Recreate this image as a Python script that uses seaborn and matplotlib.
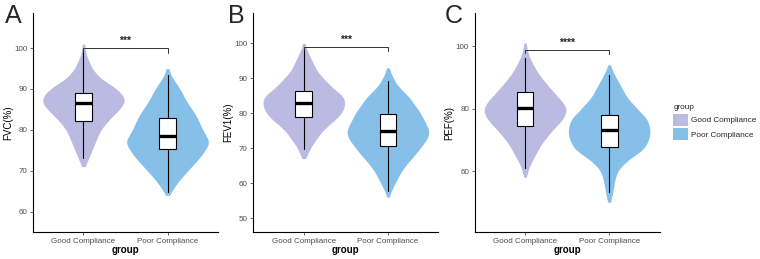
import numpy as np
import pandas as pd
import seaborn as sns
import matplotlib.pyplot as plt
from matplotlib.patches import Patch

groups = ['Good Compliance', 'Poor Compliance']
colors = ['#BBBBE2', '#86C0E9']

# estimated distributions: counts per 1-unit bin, starting at *_start
fvc_good_start = 71
fvc_good_counts = [1, 2, 3, 4, 5, 6, 7, 8, 9, 10, 12, 14, 16, 19, 21, 23, 25, 24, 22, 20,
                   16, 12, 9, 7, 5, 4, 3, 2, 1, 1, 1]
fvc_poor_start = 64
fvc_poor_counts = [1, 2, 4, 5, 7, 9, 11, 13, 15, 17, 19, 20, 22, 23, 22, 20, 19, 18, 17, 16,
                   15, 13, 12, 10, 9, 8, 7, 5, 4, 2, 1, 1]
fev_good_start = 67
fev_good_counts = [1, 2, 3, 4, 5, 7, 8, 10, 11, 14, 16, 19, 21, 23, 24, 25, 25, 25, 24, 21,
                   18, 16, 14, 12, 10, 8, 7, 6, 5, 4, 3, 2, 1, 1]
fev_poor_start = 56
fev_poor_counts = [1, 1, 2, 3, 4, 5, 6, 7, 8, 10, 11, 13, 15, 16, 18, 19, 21, 22, 23, 23,
                   22, 21, 20, 19, 18, 17, 15, 14, 13, 11, 9, 7, 5, 4, 3, 2, 1, 1]
pef_good_start = 58
pef_good_counts = [1, 1, 2, 2, 3, 4, 5, 6, 7, 8, 9, 10, 12, 13, 15, 16, 18, 20, 22, 23,
                   24, 25, 25, 24, 23, 21, 19, 18, 16, 14, 13, 11, 10, 8, 7, 6, 5, 4, 3, 2,
                   2, 1, 1, 1]
pef_poor_start = 50
pef_poor_counts = [1, 1, 2, 2, 2, 3, 3, 3, 4, 4, 5, 6, 8, 10, 12, 15, 18, 20, 22, 22,
                   23, 24, 24, 24, 24, 23, 23, 22, 20, 18, 16, 15, 13, 11, 10, 9, 8, 7, 6, 5,
                   4, 3, 2, 1, 1]

# box stats: whislo, q1, median, q3, whishi
fvc_box = [[73.0, 82.1, 86.5, 89.0, 99.6], [64.9, 75.3, 78.5, 83.0, 93.5]]
fev_box = [[69.8, 78.9, 82.9, 86.5, 98.8], [57.6, 70.7, 74.9, 79.7, 89.2]]
pef_box = [[60.9, 74.4, 80.3, 85.2, 96.1], [53.4, 67.8, 73.0, 77.8, 90.9]]

panels = [
    dict(letter='A', ylabel='FVC(%)', good=(fvc_good_start, fvc_good_counts),
         poor=(fvc_poor_start, fvc_poor_counts), box=fvc_box, ylim=(55.0, 108.6),
         yticks=[60, 70, 80, 90, 100], bracket=100.0, sig='***'),
    dict(letter='B', ylabel='FEV1(%)', good=(fev_good_start, fev_good_counts),
         poor=(fev_poor_start, fev_poor_counts), box=fev_box, ylim=(46.0, 108.7),
         yticks=[50, 60, 70, 80, 90, 100], bracket=99.0, sig='***'),
    dict(letter='C', ylabel='PEF(%)', good=(pef_good_start, pef_good_counts),
         poor=(pef_poor_start, pef_poor_counts), box=pef_box, ylim=(40.5, 110.6),
         yticks=[60, 80, 100], bracket=98.7, sig='****'),
]

sns.set_style('white')
plt.rcParams['font.family'] = ['Liberation Sans', 'DejaVu Sans']

fig = plt.figure(figsize=(7.6, 2.59), dpi=100)
lefts = [33 / 760, 253.4 / 760, 474.6 / 760]
letter_x = [5 / 760, 228 / 760, 445 / 760]

for p, left, lx in zip(panels, lefts, letter_x):
    ax = fig.add_axes([left, 27 / 259, 185 / 760, 219 / 259])
    rows = []
    for g, (start, counts) in zip(groups, [p['good'], p['poor']]):
        vals = np.repeat(np.arange(start, start + len(counts)), counts)
        rows.append(pd.DataFrame({'group': g, 'value': vals}))
    df = pd.concat(rows, ignore_index=True)
    sns.violinplot(data=df, x='group', y='value', hue='group', palette=colors,
                   inner=None, cut=0, linewidth=0, density_norm='width', width=0.97,
                   bw_adjust=0.55, saturation=1, legend=False, ax=ax)
    stats = [dict(whislo=b[0], q1=b[1], med=b[2], q3=b[3], whishi=b[4]) for b in p['box']]
    ax.bxp(stats, positions=[0, 1], widths=0.2, patch_artist=True, showfliers=False,
           showcaps=False, manage_ticks=False,
           boxprops=dict(facecolor='white', edgecolor='black', linewidth=0.8),
           medianprops=dict(color='black', linewidth=2.4),
           whiskerprops=dict(color='black', linewidth=0.8))
    yb = p['bracket']
    ax.plot([0, 0, 1, 1], [yb - 1.0, yb, yb, yb - 1.2], color='#333333', lw=0.7)
    ax.text(0.5, yb + 0.6, p['sig'], ha='center', va='bottom', fontsize=7.5,
            fontweight='bold', color='#222222')

    ax.set_xlim(-0.6, 1.6)
    ax.set_ylim(*p['ylim'])
    ax.set_yticks(p['yticks'])
    ax.set_xlabel('group', fontsize=7, color='black', labelpad=0, fontweight='bold')
    ax.set_ylabel(p['ylabel'], fontsize=7, color='black', labelpad=1)
    ax.tick_params(axis='both', labelsize=5.8, colors='#4D4D4D', length=2.5, width=0.6,
                   pad=1.5, left=True, bottom=True)
    for s in ['top', 'right']:
        ax.spines[s].set_visible(False)
    for s in ['left', 'bottom']:
        ax.spines[s].set_color('black')
        ax.spines[s].set_linewidth(0.8)
    fig.text(lx, 1 - 4 / 259, p['letter'], fontsize=18, va='top', ha='left')

handles = [Patch(facecolor=c, edgecolor='none') for c in colors]
fig.legend(handles, groups, title='group', loc='upper left',
           bbox_to_anchor=(670 / 760, 1 - 101 / 259), frameon=False, fontsize=5.9,
           title_fontsize=5.9, handlelength=1.75, handleheight=1.9, labelspacing=0.3,
           handletextpad=0.45, alignment='left', borderaxespad=0)

fig.savefig('out.png', dpi=100)
